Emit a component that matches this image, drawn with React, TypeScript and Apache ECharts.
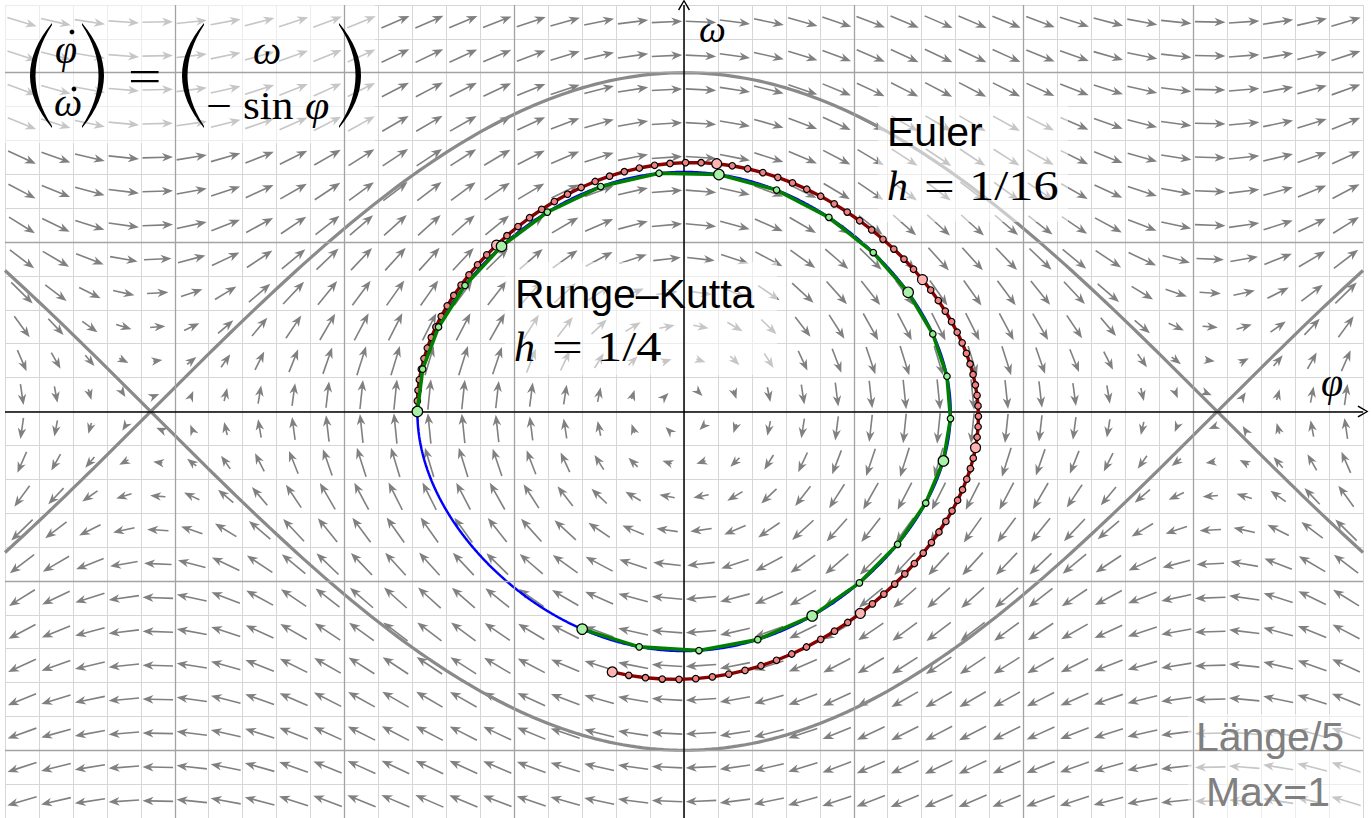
import React, { useEffect, useRef } from "react";
import * as echarts from "echarts";

// Cell centres of the direction field (phi, omega)
const phiCells = [
  -3.9, -3.7, -3.5, -3.3, -3.1, -2.9, -2.7, -2.5, -2.3, -2.1, -1.9, -1.7, -1.5, -1.3, -1.1, -0.9, -0.7, -0.5, -0.3, -0.1,
  0.1, 0.3, 0.5, 0.7, 0.9, 1.1, 1.3, 1.5, 1.7, 1.9, 2.1, 2.3, 2.5, 2.7, 2.9, 3.1, 3.3, 3.5, 3.7, 3.9,
];
const omegaCells = [
  -2.3, -2.1, -1.9, -1.7, -1.5, -1.3, -1.1, -0.9, -0.7, -0.5, -0.3, -0.1,
  0.1, 0.3, 0.5, 0.7, 0.9, 1.1, 1.3, 1.5, 1.7, 1.9, 2.1, 2.3,
];
const majorPhi = [-3, -2, -1, 1, 2, 3];
const majorOmega = [-2, -1, 1, 2];

// Pendulum system shown in the chart: phi' = omega, omega' = -sin(phi)
const startState = [-1.5708, 0];
const eulerH = 1 / 16;
const eulerSteps = 96;
const eulerMarkEvery = 16;
const rkH = 1 / 4;
const rkSteps = 24;
const rkMarkEvery = 4;
const exactH = 0.005;
const exactSteps = 1490;
const arrowDivisor = 5; // "Länge/5"
const arrowMax = 1; // "Max=1"
const separatrixPhi: number[] = [];
for (let i = 0; i <= 200; i++) separatrixPhi.push(-4 + i * 0.04);

function field(p: number, w: number): [number, number] {
  return [w, -Math.sin(p)];
}

function eulerPath(s: number[], h: number, n: number) {
  const out: number[][] = [[s[0], s[1]]];
  let p = s[0], w = s[1];
  for (let i = 0; i < n; i++) {
    const d = field(p, w);
    p = p + h * d[0];
    w = w + h * d[1];
    out.push([p, w]);
  }
  return out;
}

function rk4Path(s: number[], h: number, n: number) {
  const out: number[][] = [[s[0], s[1]]];
  let p = s[0], w = s[1];
  for (let i = 0; i < n; i++) {
    const k1 = field(p, w);
    const k2 = field(p + (h / 2) * k1[0], w + (h / 2) * k1[1]);
    const k3 = field(p + (h / 2) * k2[0], w + (h / 2) * k2[1]);
    const k4 = field(p + h * k3[0], w + h * k3[1]);
    p += (h / 6) * (k1[0] + 2 * k2[0] + 2 * k3[0] + k4[0]);
    w += (h / 6) * (k1[1] + 2 * k2[1] + 2 * k3[1] + k4[1]);
    out.push([p, w]);
  }
  return out;
}

const eulerPts = eulerPath(startState, eulerH, eulerSteps);
const rkPts = rk4Path(startState, rkH, rkSteps);
const exactPts = rk4Path(startState, exactH, exactSteps);
const sepUpper = separatrixPhi.map((p) => [p, 2 * Math.cos(p / 2)]);
const sepLower = separatrixPhi.map((p) => [p, -2 * Math.cos(p / 2)]);

const arrowData: number[][] = [];
phiCells.forEach((p) => {
  omegaCells.forEach((w) => {
    const d = field(p, w);
    arrowData.push([p, w, d[0], d[1]]);
  });
});

const ARROW_COLOR = "#808080";
const CHEVRON = "path://M0,10 L6,0 L12,10 L10.8,10.9 L6,2.4 L1.2,10.9 Z";
const SERIF = '"Liberation Serif", "DejaVu Serif", serif';
const SANS = '"Liberation Sans", Arial, sans-serif';

echarts.graphic.registerShape(
  "lparen",
  echarts.graphic.extendPath("M22 0 Q-22 52.5 22 105 L22 103 Q-11 52.5 22 2 Z", {})
);
echarts.graphic.registerShape(
  "rparen",
  echarts.graphic.extendPath("M0 0 Q44 52.5 0 105 L0 103 Q33 52.5 0 2 Z", {})
);

function txt(
  text: string,
  x: number,
  y: number,
  size: number,
  family: string,
  opts: { italic?: boolean; align?: string; color?: string; sx?: number } = {}
) {
  return {
    type: "text",
    x,
    y,
    z: 10,
    scaleX: opts.sx || 1,
    silent: true,
    style: {
      text,
      fontSize: size,
      fontFamily: family,
      fontStyle: opts.italic ? "italic" : "normal",
      fill: opts.color || "#000",
      align: opts.align || "left",
      verticalAlign: "middle",
    },
  };
}

function box(x: number, y: number, w: number, h: number) {
  return {
    type: "rect",
    z: 3,
    silent: true,
    shape: { x, y, width: w, height: h },
    style: { fill: "rgba(255,255,255,0.55)" },
  };
}

export default function App() {
  const ref = useRef<HTMLDivElement>(null);
  useEffect(() => {
    if (!ref.current) return;
    const chart = echarts.init(ref.current, null, { renderer: "svg" });
    const axisCommon = {
      type: "value",
      interval: 0.2,
      axisLine: { show: false },
      axisTick: { show: false },
      axisLabel: { show: false },
      splitLine: { show: true, lineStyle: { color: "#d6d6d6", width: 1 } },
    };
    const option: any = {
      animation: false,
      grid: { left: 5, top: 5, width: 1358, height: 814, show: false },
      xAxis: { ...axisCommon, min: -4, max: 4 },
      yAxis: { ...axisCommon, min: -2.4, max: 2.4 },
      series: [
        {
          type: "line",
          z: 1,
          silent: true,
          data: [[0, 0]],
          showSymbol: false,
          lineStyle: { opacity: 0 },
          markLine: {
            silent: true,
            symbol: ["none", "none"],
            label: { show: false },
            lineStyle: { color: "#a3a3a3", width: 1.3, type: "solid" },
            data: [
              ...majorPhi.map((v) => ({ xAxis: v })),
              ...majorOmega.map((v) => ({ yAxis: v })),
            ],
          },
        },
        {
          type: "custom",
          z: 2,
          silent: true,
          data: arrowData,
          encode: { x: 0, y: 1 },
          renderItem: (params: any, api: any) => {
            const x = api.value(0), y = api.value(1), u = api.value(2), w = api.value(3);
            const c = api.coord([x, y]);
            const s = api.size([1, 1]);
            const m = Math.hypot(u, w);
            if (m < 1e-9) return null;
            const L = (Math.min(m, arrowMax) / arrowDivisor) * s[0] * 0.9;
            let dx = u * s[0], dy = -w * s[1];
            const n = Math.hypot(dx, dy);
            dx /= n;
            dy /= n;
            const sx = c[0] - (dx * L) / 2, sy = c[1] - (dy * L) / 2;
            const ex = c[0] + (dx * L) / 2, ey = c[1] + (dy * L) / 2;
            const hl = 11, hw = 4.3;
            const px = -dy, py = dx;
            return {
              type: "group",
              children: [
                {
                  type: "line",
                  shape: { x1: sx, y1: sy, x2: ex - dx * hl * 0.6, y2: ey - dy * hl * 0.6 },
                  style: { stroke: ARROW_COLOR, lineWidth: 1.6 },
                },
                {
                  type: "polygon",
                  shape: {
                    points: [
                      [ex, ey],
                      [ex - dx * hl + px * hw, ey - dy * hl + py * hw],
                      [ex - dx * hl * 0.7, ey - dy * hl * 0.7],
                      [ex - dx * hl - px * hw, ey - dy * hl - py * hw],
                    ],
                  },
                  style: { fill: ARROW_COLOR },
                },
              ],
            };
          },
        },
        {
          type: "line",
          z: 1,
          silent: true,
          data: [[0, 0]],
          showSymbol: false,
          lineStyle: { opacity: 0 },
          markLine: {
            silent: true,
            symbol: ["none", CHEVRON],
            symbolSize: [12, 11],
            label: { show: false },
            lineStyle: { color: "#000", width: 1.5, type: "solid" },
            data: [{ xAxis: 0 }, { yAxis: 0 }],
          },
        },
        {
          type: "line",
          z: 2,
          silent: true,
          data: sepUpper,
          showSymbol: false,
          lineStyle: { color: "#8a8a8a", width: 3.2 },
        },
        {
          type: "line",
          z: 2,
          silent: true,
          data: sepLower,
          showSymbol: false,
          lineStyle: { color: "#8a8a8a", width: 3.2 },
        },
        {
          type: "line",
          z: 4,
          silent: true,
          data: exactPts,
          showSymbol: false,
          lineStyle: { color: "#0000ff", width: 2.5 },
        },
        {
          type: "line",
          z: 5,
          silent: true,
          data: eulerPts,
          showSymbol: false,
          lineStyle: { color: "#8b0000", width: 3.4 },
        },
        {
          type: "scatter",
          z: 6,
          silent: true,
          data: eulerPts.filter((_, i) => i % eulerMarkEvery !== 0),
          symbol: "circle",
          symbolSize: 6.5,
          itemStyle: { color: "#f08080", borderColor: "#000", borderWidth: 1.2, opacity: 1 },
        },
        {
          type: "scatter",
          z: 6,
          silent: true,
          data: eulerPts.filter((_, i) => i % eulerMarkEvery === 0),
          symbol: "circle",
          symbolSize: 10,
          itemStyle: { color: "#ffb4b4", borderColor: "#000", borderWidth: 1.2, opacity: 1 },
        },
        {
          type: "line",
          z: 7,
          silent: true,
          data: rkPts,
          showSymbol: false,
          lineStyle: { color: "#008000", width: 3.6 },
        },
        {
          type: "scatter",
          z: 8,
          silent: true,
          data: rkPts.filter((_, i) => i % rkMarkEvery !== 0),
          symbol: "circle",
          symbolSize: 6.5,
          itemStyle: { color: "#90ee90", borderColor: "#000", borderWidth: 1.2, opacity: 1 },
        },
        {
          type: "scatter",
          z: 8,
          silent: true,
          data: rkPts.filter((_, i) => i % rkMarkEvery === 0),
          symbol: "circle",
          symbolSize: 10.5,
          itemStyle: { color: "#a8f2a8", borderColor: "#000", borderWidth: 1.2, opacity: 1 },
        },
      ],
      graphic: {
        elements: [
          box(5, 5, 370, 138),
          box(878, 106, 190, 116),
          box(505, 262, 272, 113),
          box(1188, 714, 175, 104),
          // formula
          { type: "lparen", x: 30, y: 23, z: 10, silent: true, style: { fill: "#000" } },
          txt("φ", 55, 49, 40, SERIF, { italic: true }),
          { type: "circle", z: 10, silent: true, shape: { cx: 72, cy: 32, r: 2.4 }, style: { fill: "#000" } },
          txt("ω", 54, 102, 40, SERIF, { italic: true }),
          { type: "circle", z: 10, silent: true, shape: { cx: 74, cy: 89, r: 2.4 }, style: { fill: "#000" } },
          { type: "rparen", x: 82, y: 23, z: 10, silent: true, style: { fill: "#000" } },
          txt("=", 128, 76, 44, SERIF, { sx: 1.35 }),
          { type: "lparen", x: 182, y: 23, z: 10, silent: true, style: { fill: "#000" } },
          txt("ω", 253, 50, 40, SERIF, { italic: true }),
          txt("−", 206, 106, 40, SERIF, { sx: 1.15 }),
          txt("sin", 243, 106, 40, SERIF, { sx: 1.08 }),
          txt("φ", 305, 106, 40, SERIF, { italic: true, sx: 1.1 }),
          { type: "rparen", x: 339, y: 23, z: 10, silent: true, style: { fill: "#000" } },
          // axis names
          txt("φ", 1321, 382, 40, SERIF, { italic: true }),
          txt("ω", 699, 29, 38, SERIF, { italic: true }),
          // Euler label
          txt("Euler", 887, 132, 41, SANS),
          txt("h", 887, 186, 42, SERIF, { italic: true }),
          txt("=", 924, 186, 42, SERIF, { sx: 1.3 }),
          txt("1/16", 969, 186, 42, SERIF, { sx: 1.2 }),
          // Runge-Kutta label
          txt("Runge–Kutta", 515, 294, 41, SANS),
          txt("h", 514, 347, 42, SERIF, { italic: true }),
          txt("=", 552, 347, 42, SERIF, { sx: 1.3 }),
          txt("1/4", 597, 347, 42, SERIF, { sx: 1.2 }),
          // legend of arrow length
          txt("Länge/5", 1270, 737, 41, SANS, { align: "center", color: "#808080" }),
          txt("Max=1", 1268, 792, 41, SANS, { align: "center", color: "#808080" }),
        ],
      },
    };
    chart.setOption(option);
    return () => chart.dispose();
  }, []);
  return (
    <div
      ref={ref}
      style={{ position: "fixed", left: 0, top: 0, width: 1371, height: 818, background: "#fff" }}
    />
  );
}
